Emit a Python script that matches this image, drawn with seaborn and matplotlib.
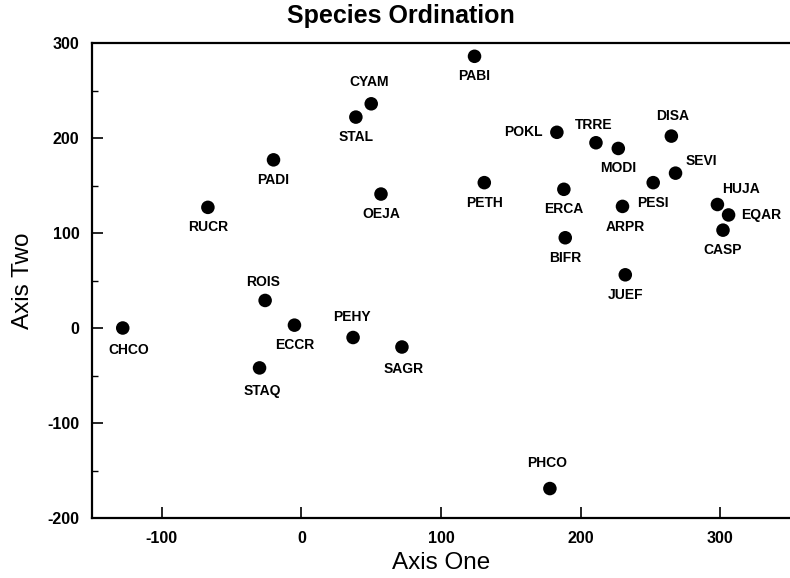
import matplotlib
matplotlib.use("Agg")
import matplotlib.pyplot as plt
import seaborn as sns
import pandas as pd
from matplotlib.ticker import MultipleLocator

species = ["CYAM", "STAL", "PADI", "RUCR", "OEJA", "ROIS", "PABI", "POKL", "TRRE",
           "MODI", "DISA", "SEVI", "PESI", "PETH", "ERCA", "ARPR", "HUJA", "EQAR",
           "CASP", "BIFR", "JUEF", "CHCO", "ECCR", "STAQ", "PEHY", "SAGR", "PHCO"]
axis_one = [50, 39, -20, -67, 57, -26, 124, 183, 211,
            227, 265, 268, 252, 131, 188, 230, 298, 306,
            302, 189, 232, -128, -5, -30, 37, 72, 178]
axis_two = [236, 222, 177, 127, 141, 29, 286, 206, 195,
            189, 202, 163, 153, 153, 146, 128, 130, 119,
            103, 95, 56, 0, 3, -42, -10, -20, -169]

# label placement (pixels from the dot), default is centred below
offsets = {
    "CYAM": (-2, 22, "center"), "ROIS": (-2, 18, "center"), "TRRE": (-2, 18, "center"),
    "DISA": (1, 20, "center"), "PEHY": (-1, 21, "center"), "PHCO": (-3, 26, "center"),
    "POKL": (-14, 0, "right"), "SEVI": (10, 12, "left"), "HUJA": (5, 16, "left"),
    "EQAR": (13, 0, "left"), "CHCO": (6, -22, "center"), "STAQ": (3, -23, "center"),
    "SAGR": (2, -22, "center"), "ARPR": (3, -21, "center"),
}

df = pd.DataFrame({"species": species, "x": axis_one, "y": axis_two})

sns.set_style("ticks")
plt.rcParams["font.family"] = ["Liberation Sans", "DejaVu Sans"]
plt.rcParams["axes.unicode_minus"] = False
for key in ["text.color", "axes.labelcolor", "xtick.color", "ytick.color"]:
    plt.rcParams[key] = "black"

fig = plt.figure(figsize=(7.9, 5.78), dpi=100)
ax = fig.add_axes([0.1165, 0.1038, 0.8835, 0.8218])

sns.scatterplot(data=df, x="x", y="y", ax=ax, color="black", s=95,
                edgecolor="none", legend=False, zorder=3)

for name, xv, yv in zip(species, axis_one, axis_two):
    dx, dy, ha = offsets.get(name, (0, -20, "center"))
    ax.annotate(name, (xv, yv), xytext=(dx, dy), textcoords="offset pixels",
                ha=ha, va="center", fontsize=10, fontweight="bold")

ax.set_xlim(-150, 350)
ax.set_ylim(-200, 300)
ax.xaxis.set_major_locator(MultipleLocator(100))
ax.yaxis.set_major_locator(MultipleLocator(100))
ax.yaxis.set_minor_locator(MultipleLocator(50))
ax.tick_params(axis="both", which="major", direction="in", length=8, width=1.2,
               pad=9, labelsize=11.5, top=False, right=False)
ax.tick_params(axis="y", which="minor", direction="in", length=4, width=1.0)
for lab in ax.get_xticklabels() + ax.get_yticklabels():
    lab.set_fontweight("bold")

for side in ["left", "bottom", "top"]:
    ax.spines[side].set_linewidth(1.6)
    ax.spines[side].set_color("black")
ax.spines["right"].set_visible(False)

ax.set_xlabel("Axis One", fontsize=17.5, labelpad=5)
ax.set_ylabel("Axis Two", fontsize=17.5, labelpad=10)
fig.text(0.507, 0.972, "Species Ordination", ha="center", va="center",
         fontsize=18, fontweight="bold")

fig.savefig("out.png", dpi=100)
